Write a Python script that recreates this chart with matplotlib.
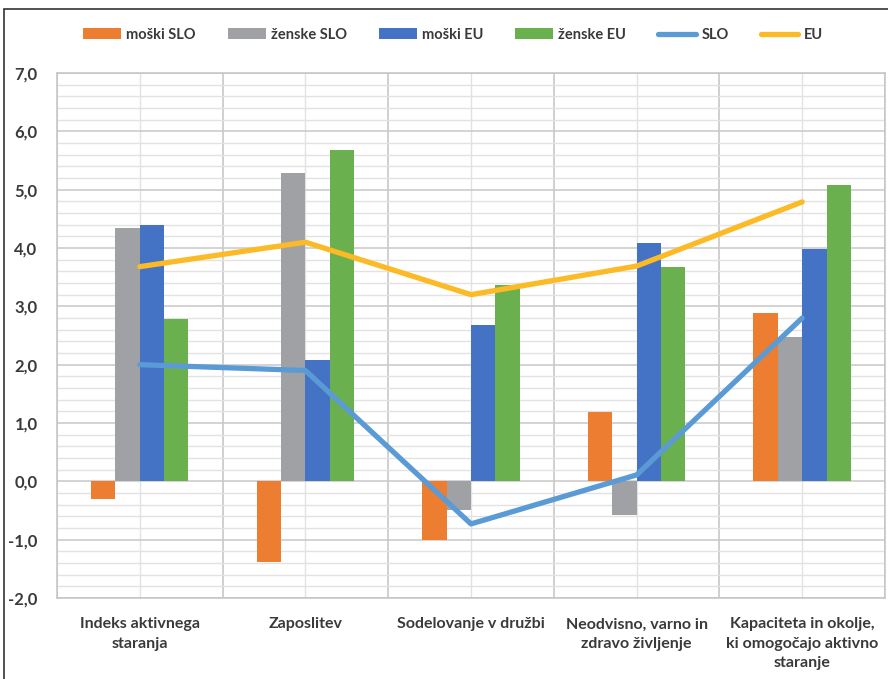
import matplotlib.pyplot as plt
import numpy as np
from matplotlib.patches import Rectangle
from matplotlib.ticker import MultipleLocator, FuncFormatter

plt.rcParams['font.family'] = ['Lato', 'DejaVu Sans']

categories = ['Indeks aktivnega\nstaranja', 'Zaposlitev', 'Sodelovanje v družbi',
              'Neodvisno, varno in\nzdravo življenje',
              'Kapaciteta in okolje,\nki omogočajo aktivno\nstaranje']
moski_slo = [-0.31, -1.39, -1.0, 1.19, 2.88]
zenske_slo = [4.34, 5.28, -0.5, -0.58, 2.48]
moski_eu = [4.39, 2.08, 2.68, 4.08, 3.98]
zenske_eu = [2.78, 5.68, 3.37, 3.67, 5.08]
slo = [2.0, 1.9, -0.73, 0.11, 2.8]
eu = [3.68, 4.1, 3.2, 3.69, 4.79]

text_col = '#3a3a3a'
fig = plt.figure(figsize=(8.88, 6.79), dpi=100)
ax = fig.add_axes([0.0642, 0.1193, 0.9324, 0.7732])

x = np.arange(len(categories))
w = 0.147
bars = [(moski_slo, '#ED7D31', 'moški SLO'), (zenske_slo, '#A0A1A5', 'ženske SLO'),
        (moski_eu, '#4472C4', 'moški EU'), (zenske_eu, '#6AB04F', 'ženske EU')]
handles = []
for i, (vals, col, lab) in enumerate(bars):
    b = ax.bar(x + (i - 1.5) * w, vals, w, color=col, label=lab, zorder=2)
    handles.append(b)

l1, = ax.plot(x, slo, color='#5B9BD5', lw=3.8, label='SLO', zorder=3, solid_capstyle='round')
l2, = ax.plot(x, eu, color='#FBBA26', lw=3.8, label='EU', zorder=3, solid_capstyle='round')
handles += [l1, l2]

ax.set_xlim(-0.5, len(categories) - 0.5)
ax.set_ylim(-2, 7)
ax.yaxis.set_major_locator(MultipleLocator(1))
ax.yaxis.set_minor_locator(MultipleLocator(0.2))
ax.yaxis.set_major_formatter(FuncFormatter(lambda v, p: f'{v:.1f}'.replace('.', ',')))
ax.set_xticks(x)
ax.set_xticklabels(categories, fontsize=11.5, fontweight='bold', color=text_col,
                   linespacing=1.5, va='top')
ax.set_xticks(np.arange(-0.5, len(categories)), minor=True)
ax.tick_params(axis='x', which='both', length=0, pad=14)
ax.tick_params(axis='y', which='both', length=0, pad=14)
for lbl in ax.get_yticklabels():
    lbl.set_fontsize(12)
    lbl.set_fontweight('bold')
    lbl.set_color(text_col)

ax.grid(which='major', axis='y', color='#c8c8c8', lw=1.1, zorder=0)
ax.grid(which='minor', axis='y', color='#e2e2e2', lw=1.0, zorder=0)
ax.grid(which='minor', axis='x', color='#c4c4c4', lw=1.1, zorder=0)
ax.grid(which='major', axis='x', color='#e2e2e2', lw=1.0, zorder=0)
ax.set_axisbelow(True)
for s in ax.spines.values():
    s.set_color('#c4c4c4')
    s.set_linewidth(1.1)

fig.legend(handles=handles, loc='center', bbox_to_anchor=(0.51, 0.949), ncol=6,
           frameon=False, handlelength=2.6, handletextpad=0.35, columnspacing=2.2,
           prop={'weight': 'bold', 'size': 10.5}, labelcolor=text_col)

fig.add_artist(Rectangle((0.005, -0.1), 1.2, 0.1 + (679 - 9) / 679, transform=fig.transFigure,
                         fill=False, edgecolor='#333333', lw=1.2))

fig.savefig('out.png', dpi=100)
